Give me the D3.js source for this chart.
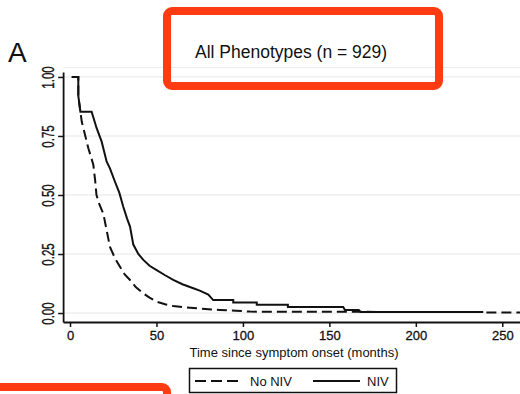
<!DOCTYPE html>
<html lang="en">
<head>
<meta charset="utf-8">
<title>All Phenotypes - survival by NIV</title>
<script src="https://d3js.org/d3.v7.min.js"></script>
<style>
  body { margin: 0; background: white; }
  text { font-family: "Liberation Sans", Arial, sans-serif; fill: #111; }
</style>
</head>
<body>
<div id="my_dataviz"></div>

<script>

    // Kaplan-Meier curves (months, proportion surviving)
    var nivTime = [1, 4.8, 4.8, 6, 12.5, 15.4, 18.3, 21.2, 23.1, 26, 28.5, 30.8, 33, 34.7, 36.6, 39.5, 42.4, 46, 50.1, 55,
                   59.7, 65, 71.3, 75, 80, 82.8, 94.4, 94.4, 108, 108, 126, 126, 158, 159, 167, 168, 239]
    var nivSurv = [1, 1, 0.92, 0.853, 0.853, 0.783, 0.726, 0.641, 0.613, 0.556, 0.51, 0.45, 0.40, 0.366, 0.29, 0.25, 0.225, 0.20, 0.182, 0.16,
                   0.14, 0.122, 0.105, 0.095, 0.078, 0.055, 0.055, 0.045, 0.045, 0.035, 0.035, 0.026, 0.026, 0.013, 0.013, 0.004, 0.004]

    var noNivTime = [1, 4.8, 4.8, 6, 6.8, 8.7, 10.6, 12, 13.5, 14.5, 15.3, 17, 19.3, 21.2, 23.1, 26, 28.9, 31.5, 34.7, 38,
                     42.4, 46, 50.1, 55, 59.7, 66, 73.2, 80, 86.7, 96, 104, 165, 239, 239, 262]
    var noNivSurv = [1, 1, 0.92, 0.853, 0.81, 0.754, 0.698, 0.665, 0.627, 0.564, 0.5, 0.46, 0.42, 0.35, 0.28, 0.232, 0.196, 0.165, 0.14, 0.11,
                     0.083, 0.065, 0.048, 0.037, 0.03, 0.025, 0.02, 0.016, 0.013, 0.01, 0.006, 0.005, 0.004, 0.002, 0.002]

    var xTicks = [0, 50, 100, 150, 200, 250]
    var yTicks = [0, 0.25, 0.5, 0.75, 1]
    var seriesNames = ["No NIV", "NIV"]

    var width = 520
        height = 394

    var svg = d3.select("#my_dataviz")
      .append("svg")
        .attr("width", width)
        .attr("height", height)

    // scales (plot region runs a little past 0..250 and 0..1 like Stata does)
    var x = d3.scaleLinear().domain([-4, 261]).range([63.1, 521.3])
    var y = d3.scaleLinear().domain([-0.038, 1.021]).range([322, 72])

    // light top border of the plot region and horizontal gridlines
    svg.append("line")
      .attr("x1", x.range()[0]).attr("x2", width)
      .attr("y1", 67.5).attr("y2", 67.5)
      .attr("stroke", "#ececec").attr("stroke-width", 1)

    svg.selectAll(".grid")
      .data(yTicks)
      .enter()
      .append("line")
        .attr("class", "grid")
        .attr("x1", x.range()[0]).attr("x2", width)
        .attr("y1", function(d){ return y(d) }).attr("y2", function(d){ return y(d) })
        .attr("stroke", "#e6e6e6").attr("stroke-width", 1)

    // x axis
    var gx = svg.append("g")
      .attr("transform", "translate(0," + y.range()[0] + ")")
      .call(d3.axisBottom(x).tickValues(xTicks).tickSize(5).tickSizeOuter(0).tickPadding(4))
    gx.select(".domain").attr("stroke", "#111").attr("stroke-width", 1.8)
    gx.selectAll(".tick line").attr("stroke", "#111").attr("stroke-width", 1.5)
    gx.selectAll(".tick text")
      .style("font-size", "13px").attr("fill", "#111")
      .attr("stroke", "#111").attr("stroke-width", 0.3)

    // y axis, labels rotated and squeezed like the original
    var gy = svg.append("g")
      .attr("transform", "translate(" + x.range()[0] + ",0)")
      .call(d3.axisLeft(y).tickValues(yTicks).tickSize(5).tickSizeOuter(0).tickFormat(d3.format(".2f")))
    gy.select(".domain").attr("stroke", "#111").attr("stroke-width", 1.8)
    gy.selectAll(".tick line").attr("stroke", "#111").attr("stroke-width", 1.5)
    gy.selectAll(".tick text")
      .attr("x", null).attr("dy", null)
      .attr("text-anchor", "middle")
      .attr("transform", "translate(-9.5,0) rotate(-90) scale(0.7,1)")
      .style("font-size", "16.5px")
      .attr("stroke", "#111").attr("stroke-width", 0.35)

    // axis title
    svg.append("text")
      .attr("x", 294)
      .attr("y", 357)
      .attr("text-anchor", "middle")
      .style("font-size", "13px")
      .text("Time since symptom onset (months)")

    // the two curves
    var line = d3.line()
      .x(function(d){ return x(d[0]) })
      .y(function(d){ return y(d[1]) })

    var noNiv = d3.zip(noNivTime, noNivSurv)
    var niv = d3.zip(nivTime, nivSurv)

    svg.append("path")
      .datum(noNiv)
      .attr("d", line)
      .attr("fill", "none")
      .attr("stroke", "#111")
      .attr("stroke-width", 2)
      .attr("stroke-dasharray", "10,5")

    svg.append("path")
      .datum(niv)
      .attr("d", line)
      .attr("fill", "none")
      .attr("stroke", "#111")
      .attr("stroke-width", 2)

    // legend
    var legend = svg.append("g")
    legend.append("rect")
      .attr("x", 189.5).attr("y", 368.5)
      .attr("width", 207).attr("height", 24)
      .attr("fill", "white").attr("stroke", "#111").attr("stroke-width", 1.5)
    legend.append("line")
      .attr("x1", 195).attr("x2", 242).attr("y1", 381).attr("y2", 381)
      .attr("stroke", "#111").attr("stroke-width", 1.8).attr("stroke-dasharray", "11,5")
    legend.append("text")
      .attr("x", 250).attr("y", 385.5)
      .style("font-size", "13px")
      .text(seriesNames[0])
    legend.append("line")
      .attr("x1", 313).attr("x2", 360).attr("y1", 381).attr("y2", 381)
      .attr("stroke", "#111").attr("stroke-width", 1.8)
    legend.append("text")
      .attr("x", 367).attr("y", 385.5)
      .style("font-size", "13px")
      .text(seriesNames[1])

    // panel letter
    svg.append("text")
      .attr("x", 8).attr("y", 62)
      .style("font-size", "28px")
      .text("A")

    // red highlight boxes
    svg.append("rect")
      .attr("x", 167).attr("y", 11)
      .attr("width", 272).attr("height", 75)
      .attr("rx", 5)
      .attr("fill", "none").attr("stroke", "#fe3b12").attr("stroke-width", 8)

    svg.append("text")
      .attr("x", 195).attr("y", 58)
      .style("font-size", "17.5px")
      .attr("fill", "#222")
      .text("All Phenotypes (n = 929)")

    svg.append("rect")
      .attr("x", -10).attr("y", 387)
      .attr("width", 177).attr("height", 50)
      .attr("rx", 5)
      .attr("fill", "none").attr("stroke", "#fe3b12").attr("stroke-width", 8)

</script>
</body>
</html>
